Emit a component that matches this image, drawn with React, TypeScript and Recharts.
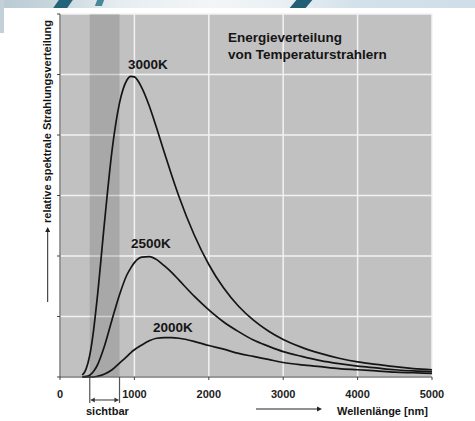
import React from 'react';
import { LineChart, Line, XAxis, YAxis, CartesianGrid, ReferenceArea, ReferenceLine } from 'recharts';

// Wellenlänge [nm] und relative Strahlungsverteilung je Temperatur
const wavelengths = [300, 350, 400, 450, 500, 600, 700, 800, 900, 950, 1000, 1100, 1200, 1300, 1400, 1500, 1600, 1800, 2000, 2200, 2400, 2600, 2800, 3000, 3250, 3500, 3750, 4000, 4250, 4500, 4750, 5000];
const t3000 = [0.03, 0.13, 0.36, 0.76, 1.30, 2.58, 3.75, 4.53, 4.91, 4.97, 4.96, 4.78, 4.48, 4.11, 3.72, 3.34, 2.98, 2.36, 1.86, 1.47, 1.17, 0.94, 0.76, 0.62, 0.49, 0.39, 0.31, 0.25, 0.21, 0.17, 0.14, 0.12];
const t2500 = [0, 0.01, 0.03, 0.09, 0.19, 0.52, 0.95, 1.36, 1.69, 1.80, 1.89, 1.98, 1.99, 1.94, 1.84, 1.73, 1.60, 1.34, 1.11, 0.91, 0.75, 0.61, 0.51, 0.42, 0.34, 0.27, 0.22, 0.18, 0.15, 0.12, 0.10, 0.09];
const t2000 = [0, 0, 0, 0, 0.01, 0.05, 0.12, 0.23, 0.34, 0.40, 0.45, 0.53, 0.60, 0.64, 0.65, 0.65, 0.64, 0.59, 0.52, 0.46, 0.39, 0.34, 0.29, 0.24, 0.20, 0.17, 0.14, 0.12, 0.10, 0.08, 0.07, 0.06];

const xTicks = [0, 1000, 2000, 3000, 4000, 5000];
const yTicks = [0, 1, 2, 3, 4, 5, 6];
const visible = [400, 800];

const data = wavelengths.map((wl, i) => ({ wl, t3000: t3000[i], t2500: t2500[i], t2000: t2000[i] }));

const FONT = '"Liberation Sans", Arial, sans-serif';
const INK = '#151515';

// ── Doppelpfeil für "sichtbar" ─────────────────────────────
function DoubleArrow(props: any) {
  const { x1, y1, x2, y2 } = props;
  const h = 4, w = 2.5;
  return (
    <g>
      <line x1={x1 + 1} y1={y1} x2={x2 - 1} y2={y2} stroke="#333" strokeWidth={1} />
      <polygon points={`${x1 + 1},${y1} ${x1 + 1 + h},${y1 - w} ${x1 + 1 + h},${y1 + w}`} fill="#333" />
      <polygon points={`${x2 - 1},${y2} ${x2 - 1 - h},${y2 - w} ${x2 - 1 - h},${y2 + w}`} fill="#333" />
    </g>
  );
}

function Decoration() {
  return (
    <>
      <div style={{ position: 'absolute', left: 0, top: 0, width: 475, height: 8,
        background: 'linear-gradient(90deg, #b9cad3 0%, #c9d7de 12%, #e6edf1 25%, #f3f6f8 45%, #e9eff3 60%, #d3e1ea 75%, #cfdee8 100%)' }} />
      <div style={{ position: 'absolute', left: 0, top: 0, width: 4, height: 33, background: '#c3d0d8' }} />
      <div style={{ position: 'absolute', left: 56, top: 0, width: 14, height: 8, background: '#24647a', transform: 'skewX(-35deg)' }} />
      <div style={{ position: 'absolute', left: 96, top: 0, width: 7, height: 6, background: '#4a8799', transform: 'skewX(-20deg)' }} />
      <div style={{ position: 'absolute', left: 293, top: 0, width: 16, height: 8, background: '#225f74', transform: 'skewX(-40deg)' }} />
    </>
  );
}

export default function App() {
  return (
    <div style={{ position: 'absolute', left: 0, top: 0, width: 475, height: 421, background: '#fff', fontFamily: FONT }}>
      <Decoration />
      <div style={{ position: 'absolute', left: 0, top: 0 }}>
        <LineChart width={475} height={421} data={data} margin={{ top: 14, right: 43, bottom: 14, left: 0 }}>
          <CartesianGrid fill="#c1c1c1" fillOpacity={1} stroke="#f2f2f2" strokeWidth={1.5} />
          <ReferenceArea x1={visible[0]} x2={visible[1]} y1={0} y2={6} fill="#000" fillOpacity={0.13} stroke="none" ifOverflow="hidden" />
          <XAxis type="number" dataKey="wl" domain={[0, 5000]} ticks={xTicks} interval={0}
            tickSize={3} tickMargin={10} height={30} stroke="#444"
            tick={{ fill: '#222', fontSize: 11, fontWeight: 700, fontFamily: FONT }} />
          <YAxis type="number" domain={[0, 6]} ticks={yTicks} width={60} tickSize={3}
            tickFormatter={() => ''} stroke="#444" />
          <ReferenceLine segment={[{ x: visible[0], y: 0 }, { x: visible[0], y: -0.43 }]} ifOverflow="visible" stroke="#555" strokeWidth={1.2} />
          <ReferenceLine segment={[{ x: visible[1], y: 0 }, { x: visible[1], y: -0.43 }]} ifOverflow="visible" stroke="#555" strokeWidth={1.2} />
          <ReferenceLine segment={[{ x: visible[0], y: -0.38 }, { x: visible[1], y: -0.38 }]} ifOverflow="visible" shape={DoubleArrow} />
          <Line type="monotone" dataKey="t3000" stroke={INK} strokeWidth={1.7} dot={false} isAnimationActive={false} />
          <Line type="monotone" dataKey="t2500" stroke={INK} strokeWidth={1.7} dot={false} isAnimationActive={false} />
          <Line type="monotone" dataKey="t2000" stroke={INK} strokeWidth={1.7} dot={false} isAnimationActive={false} />
        </LineChart>
      </div>
      {/* Beschriftungen */}
      <svg width={475} height={421} style={{ position: 'absolute', left: 0, top: 0, pointerEvents: 'none' }}
        fontFamily={FONT} fontWeight={700} fill="#151515">
        <text x={228} y={41.5} fontSize={13.5}>Energieverteilung</text>
        <text x={228} y={59} fontSize={13.5}>von Temperaturstrahlern</text>
        <text x={128} y={69} fontSize={13.5}>3000K</text>
        <text x={131} y={248} fontSize={13.5}>2500K</text>
        <text x={153} y={332} fontSize={13.5}>2000K</text>
        <text x={86} y={414.5} fontSize={11}>sichtbar</text>
        <text x={337} y={414.5} fontSize={11}>Wellenlänge [nm]</text>
        <text transform="translate(50.5,121.5) rotate(-90)" textAnchor="middle" fontSize={11}>relative spektrale Strahlungsverteilung</text>
        <line x1={47.7} y1={302} x2={47.7} y2={231} stroke="#222" strokeWidth={1} />
        <polygon points="47.7,227 45.2,232 50.2,232" fill="#222" />
        <line x1={256} y1={409} x2={318} y2={409} stroke="#222" strokeWidth={1} />
        <polygon points="322,409 317,406.5 317,411.5" fill="#222" />
      </svg>
    </div>
  );
}
